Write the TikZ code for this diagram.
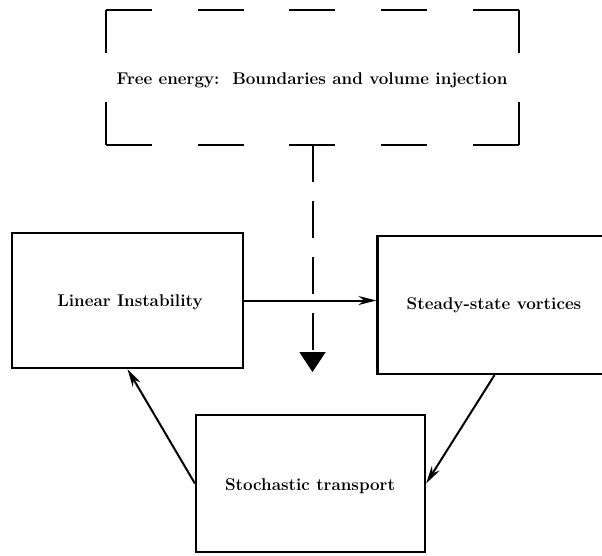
\documentclass[tikz,border=0pt]{standalone}
\usetikzlibrary{arrows.meta}
\begin{document}
\begin{tikzpicture}[x=1pt,y=-1pt,
  every node/.style={font=\fontsize{17}{20}\selectfont\bfseries},
  boxnode/.style={draw,line width=2.2pt,inner sep=0pt},
  conn/.style={line width=2pt,-{Stealth[length=18pt,width=9pt]}}]
\useasboundingbox (0,0) rectangle (602,555);
% dashed free-energy box
\node[minimum width=413pt,minimum height=135pt,inner sep=0pt] (free) at (312.5,77.5) {};
\node at (312,80) (freetxt) {Free energy:\ \ Boundaries and volume injection};
\begin{scope}[line width=2.2pt]
\draw[dash pattern=on 46pt off 45.75pt] (free.north west) -- (free.north east);
\draw[dash pattern=on 46pt off 45.75pt] (free.south west) -- (free.south east);
\draw[dash pattern=on 43pt off 49pt] (free.north west) -- (free.south west);
\draw[dash pattern=on 43pt off 49pt] (free.north east) -- (free.south east);
\end{scope}
% boxes
\node[boxnode,minimum width=231pt,minimum height=135pt] (lin) at (127.5,300.5) {};
\node at (130,302) (lintxt) {Linear Instability};
\node[boxnode,minimum width=234pt,minimum height=138pt] (steady) at (494.5,305) {};
\node at (494,305) (steadytxt) {Steady-state vortices};
\node[boxnode,minimum width=229pt,minimum height=137pt] (stoch) at (310.5,483.5) {};
\node at (310,486) (stochtxt) {Stochastic transport};
% connectors
\coordinate (tip) at (312.5,372);
\draw[line width=2pt,dash pattern=on 37pt off 19pt,-{Triangle[length=20pt,width=26pt]}] (free.south) -- (tip);
\draw[conn] (lin.east) -- (lin.east -| steady.west);
\draw[conn] (stoch.west) -- (lin.south);
\draw[conn] (steady.south) -- (stoch.east);
\end{tikzpicture}
\end{document}
